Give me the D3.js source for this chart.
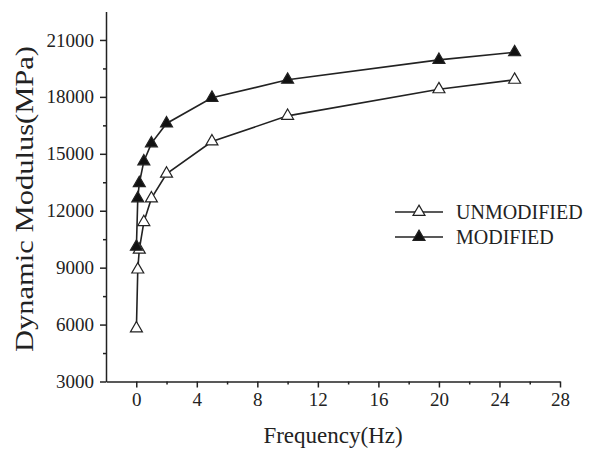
<!DOCTYPE html>
<html>
<head>
<meta charset="utf-8">
<script src="https://cdn.jsdelivr.net/npm/d3@7"></script>
<style>
  body { margin: 0; background: #fff; }
  svg text { font-family: "Liberation Serif", "Times New Roman", serif !important; fill: #222; }
</style>
</head>
<body>
<svg id="chart" width="589" height="458"></svg>
<script>
// frequencies (Hz) and moduli (MPa)
var frequency = [0.01, 0.1, 0.2, 0.5, 1, 2, 5, 10, 20, 25];
var unmodified = [5800, 8900, 9950, 11400, 12650, 13950, 15650, 17000, 18400, 18900];
var modified = [10100, 12650, 13450, 14600, 15550, 16600, 17950, 18900, 19950, 20350];

var xTicks = [0, 4, 8, 12, 16, 20, 24, 28];
var yTicks = [3000, 6000, 9000, 12000, 15000, 18000, 21000];

var series = [
  {name: "UNMODIFIED", values: unmodified, fill: "#fff"},
  {name: "MODIFIED", values: modified, fill: "#111"}
];

var svg = d3.select("#chart");
var ink = "#222";
var serif = "Liberation Serif, Times New Roman, serif";

var x = d3.scaleLinear().domain([-2, 28]).range([106, 560]);
var y = d3.scaleLinear().domain([3000, 22500]).range([381.5, 11.5]);

// x axis, major + minor ticks
svg.append("g")
    .attr("transform", "translate(0," + y(3000) + ")")
    .call(d3.axisBottom(x).tickValues(xTicks).tickSize(6).tickSizeOuter(0).tickPadding(5));
svg.append("g")
    .attr("transform", "translate(0," + y(3000) + ")")
    .call(d3.axisBottom(x).tickValues([2, 6, 10, 14, 18, 22, 26]).tickSize(3).tickFormat(""))
    .select(".domain").remove();

svg.append("g")
    .attr("transform", "translate(" + x(-2) + ",0)")
    .call(d3.axisLeft(y).tickValues(yTicks).tickSize(6).tickSizeOuter(0).tickPadding(6).tickFormat(d3.format("d")));
svg.append("g")
    .attr("transform", "translate(" + x(-2) + ",0)")
    .call(d3.axisLeft(y).tickValues([4500, 7500, 10500, 13500, 16500, 19500]).tickSize(3).tickFormat(""))
    .select(".domain").remove();

svg.selectAll("g").attr("font-family", serif);
svg.selectAll(".domain, .tick line").attr("stroke", ink).attr("stroke-width", 1.5);
svg.selectAll(".tick text")
    .attr("font-size", 19)
    .attr("fill", ink);

// axis titles
svg.append("text")
    .attr("x", 333).attr("y", 443)
    .attr("text-anchor", "middle")
    .attr("font-size", 23)
    .text("Frequency(Hz)");

svg.append("text")
    .attr("transform", "translate(33,199) rotate(-90)")
    .attr("text-anchor", "middle")
    .attr("textLength", 306)
    .attr("lengthAdjust", "spacingAndGlyphs")
    .attr("font-size", 26)
    .text("Dynamic Modulus(MPa)");

var line = d3.line()
    .x(function(d, i) { return x(frequency[i]); })
    .y(function(d) { return y(d); });

var tri = d3.symbol().type(d3.symbolTriangle).size(62);

series.forEach(function(s) {
  svg.append("path")
      .datum(s.values)
      .attr("d", line)
      .attr("fill", "none")
      .attr("stroke", ink)
      .attr("stroke-width", 1.6);

  svg.append("g").selectAll("path")
      .data(s.values)
    .enter().append("path")
      .attr("d", tri)
      .attr("transform", function(d, i) { return "translate(" + x(frequency[i]) + "," + y(d) + ")"; })
      .attr("fill", s.fill)
      .attr("stroke", ink)
      .attr("stroke-width", 1.2);
});

// legend
var legend = svg.append("g");
series.forEach(function(s, i) {
  var ly = 212 + i * 25;
  legend.append("line")
      .attr("x1", 395).attr("x2", 443)
      .attr("y1", ly).attr("y2", ly)
      .attr("stroke", ink).attr("stroke-width", 1.6);
  legend.append("path")
      .attr("d", tri)
      .attr("transform", "translate(419," + ly + ")")
      .attr("fill", s.fill)
      .attr("stroke", ink)
      .attr("stroke-width", 1.2);
  legend.append("text")
      .attr("x", 456).attr("y", ly + 7)
      .attr("font-size", 20)
      .text(s.name);
});
</script>
</body>
</html>
